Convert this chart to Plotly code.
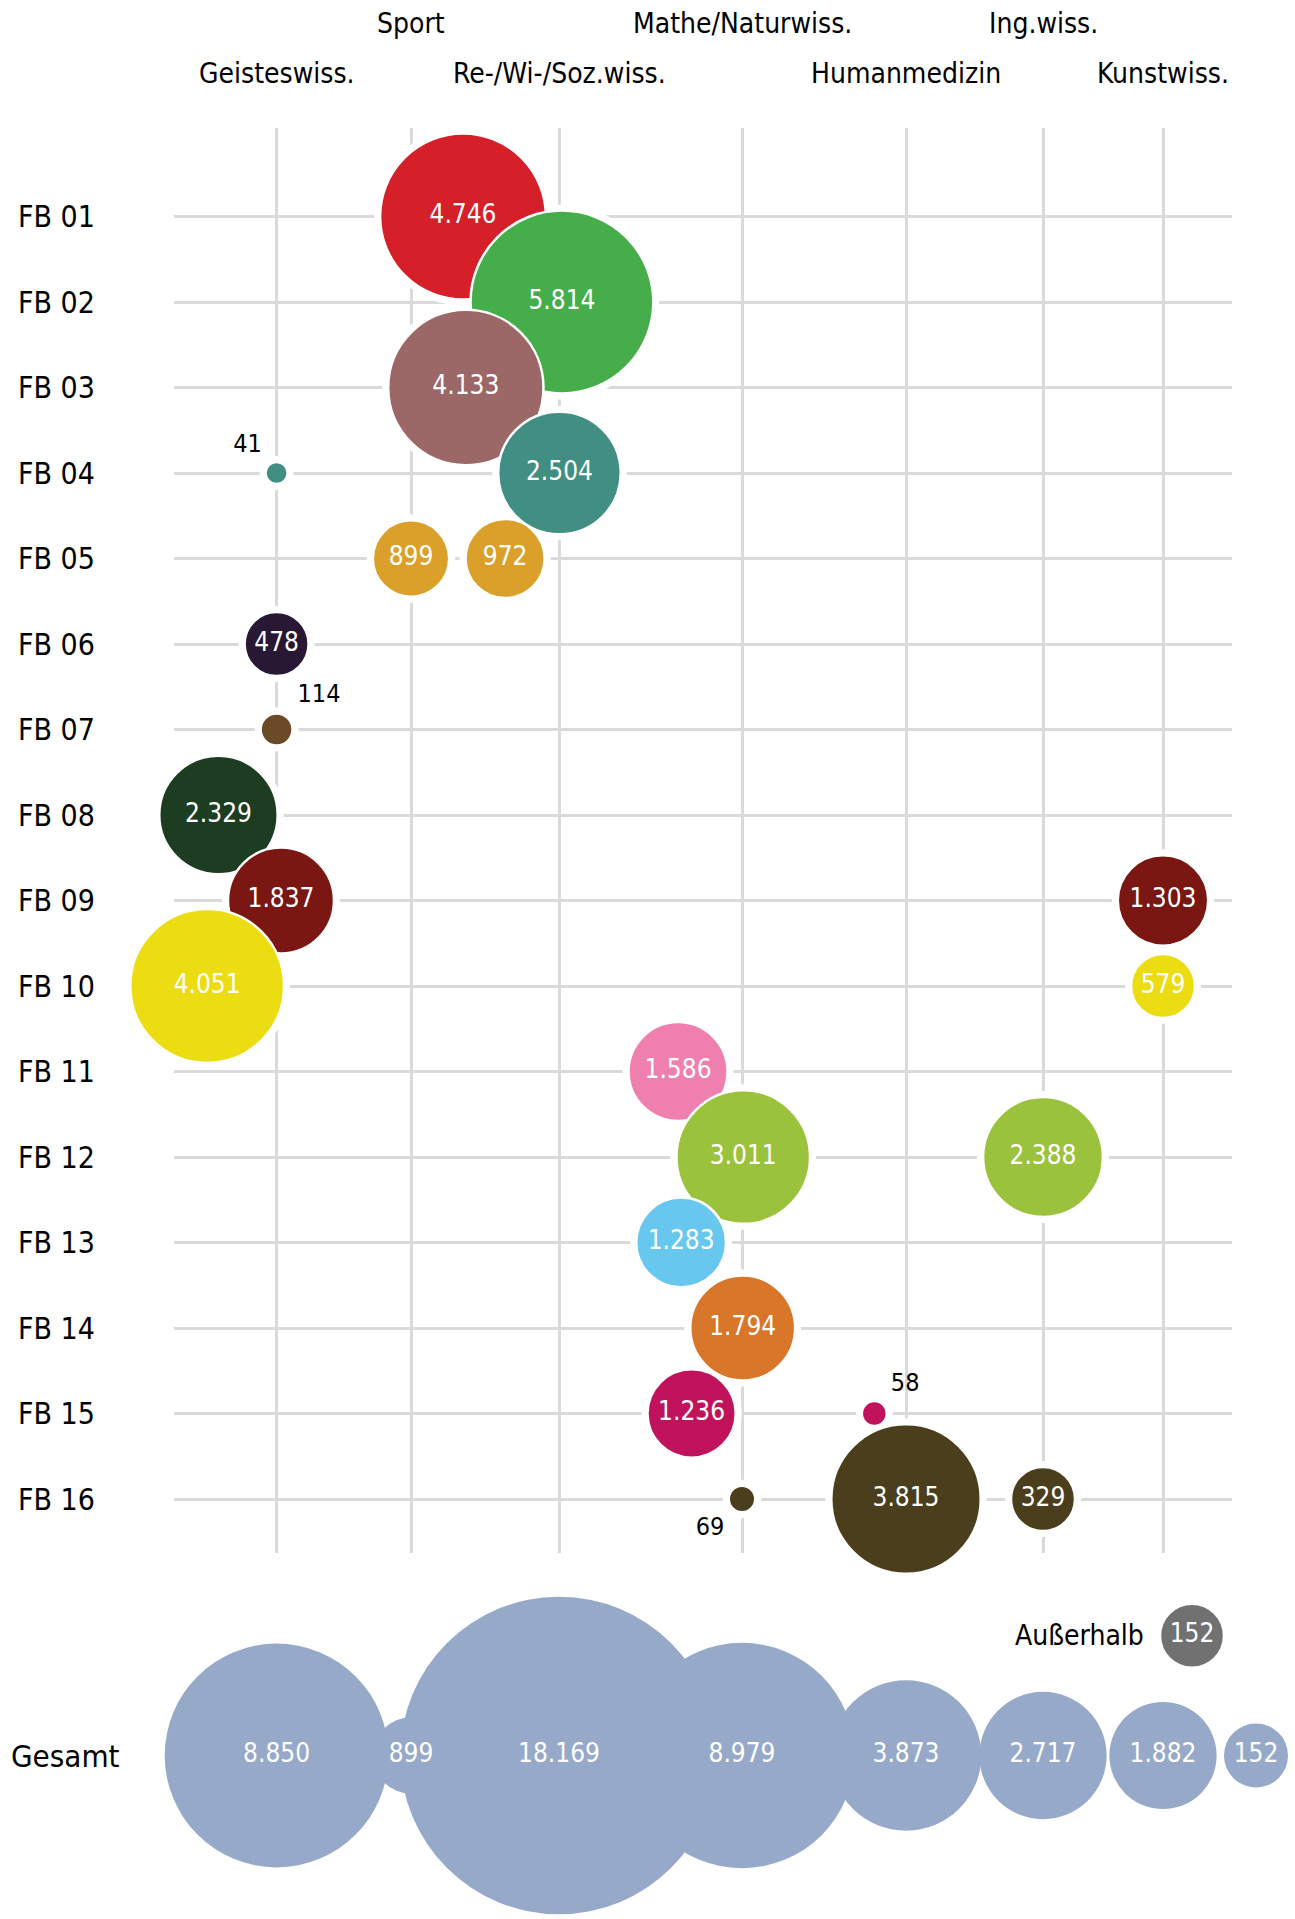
import math
import plotly.graph_objects as go
from plotly.subplots import make_subplots

# ---------------- data ----------------
COLUMNS = ["Geisteswiss.", "Sport", "Re-/Wi-/Soz.wiss.", "Mathe/Naturwiss.",
           "Humanmedizin", "Ing.wiss.", "Kunstwiss."]
ROWS = ["FB 01", "FB 02", "FB 03", "FB 04", "FB 05", "FB 06", "FB 07", "FB 08",
        "FB 09", "FB 10", "FB 11", "FB 12", "FB 13", "FB 14", "FB 15", "FB 16"]

FB_ROW = ["FB 01", "FB 02", "FB 03", "FB 04", "FB 04", "FB 05", "FB 05", "FB 06",
          "FB 07", "FB 08", "FB 09", "FB 09", "FB 10", "FB 10", "FB 11", "FB 12",
          "FB 12", "FB 13", "FB 14", "FB 15", "FB 15", "FB 16", "FB 16", "FB 16"]
FB_COLUMN = ["Re-/Wi-/Soz.wiss.", "Re-/Wi-/Soz.wiss.", "Re-/Wi-/Soz.wiss.",
             "Geisteswiss.", "Re-/Wi-/Soz.wiss.", "Sport", "Re-/Wi-/Soz.wiss.",
             "Geisteswiss.", "Geisteswiss.", "Geisteswiss.", "Geisteswiss.",
             "Kunstwiss.", "Geisteswiss.", "Kunstwiss.", "Mathe/Naturwiss.",
             "Mathe/Naturwiss.", "Ing.wiss.", "Mathe/Naturwiss.", "Mathe/Naturwiss.",
             "Mathe/Naturwiss.", "Humanmedizin", "Mathe/Naturwiss.", "Humanmedizin",
             "Ing.wiss."]
FB_VALUE = [4746, 5814, 4133, 41, 2504, 899, 972, 478, 114, 2329, 1837, 1303,
            4051, 579, 1586, 3011, 2388, 1283, 1794, 1236, 58, 69, 3815, 329]

GESAMT_LABEL = "Gesamt"
OUTSIDE_LABEL = "Außerhalb"
GESAMT_COLUMN = COLUMNS + [OUTSIDE_LABEL]
GESAMT_VALUE = [8850, 899, 18169, 8979, 3873, 2717, 1882, 152]
AUSSERHALB_VALUE = [152]

# ---------------- styles / layout ----------------
FB_COLOR = {
    "FB 01": "#D52029", "FB 02": "#45AE4A", "FB 03": "#9B6767", "FB 04": "#408F82",
    "FB 05": "#DBA02A", "FB 06": "#281834", "FB 07": "#6B4A28", "FB 08": "#1C3D21",
    "FB 09": "#7A1713", "FB 10": "#ECDC12", "FB 11": "#EE7FAE", "FB 12": "#9BC23C",
    "FB 13": "#67C7EE", "FB 14": "#D8762A", "FB 15": "#C0135C", "FB 16": "#4A3E1C",
}
GESAMT_COLOR = "#97A9C8"
AUSSERHALB_COLOR = "#717171"
GRID_COLOR = "#DADADA"
FONT = "DejaVu Sans Condensed, Liberation Sans Narrow, sans-serif"

W, H = 1295, 1919
PLOT_X = (174, 1232)
PLOT_Y = (128, 1553)
# custom (non-uniform) x scale for the subject-group columns
COL_X = {"Geisteswiss.": 276.6, "Sport": 411, "Re-/Wi-/Soz.wiss.": 559,
         "Mathe/Naturwiss.": 742, "Humanmedizin": 906, "Ing.wiss.": 1043,
         "Kunstwiss.": 1163, "Außerhalb": 1256}
ROW_Y0, ROW_STEP = 216.5, 85.5
KEY_ROW, GESAMT_ROW = 16.6, 18

R_SCALE, R_PAD, R_MIN_LABEL = 1.15, 3.7, 32.0
INSIDE_MIN = 150
GAP, OVERLAP_START, OVERLAP_RATE = 4.0, 95.0, 0.6
SPRING, ITER = 0.02, 1500
HALO = 12
ROW_FONT, HEAD_FONT, VALUE_FONT, SMALL_FONT = 30, 28, 26, 25
OUTSIDE_LABEL_POS = {("FB 04", "Geisteswiss."): "top left",
                     ("FB 07", "Geisteswiss."): "top right",
                     ("FB 15", "Humanmedizin"): "top right",
                     ("FB 16", "Mathe/Naturwiss."): "bottom left"}


def fmt(v):
    return f"{v:,}".replace(",", ".")


def row_y(idx):
    return ROW_Y0 + idx * ROW_STEP


def radius(v):
    r = R_SCALE * math.sqrt(v) + R_PAD
    return max(r, R_MIN_LABEL) if v >= INSIDE_MIN else r


# ---------------- bubble layout: dodge overlapping bubbles sideways ----------------
n = len(FB_VALUE)
tx = [COL_X[c] for c in FB_COLUMN]
ty = [row_y(ROWS.index(rw)) for rw in FB_ROW]
rad = [radius(v) for v in FB_VALUE]


def min_dist(i, j):
    s = rad[i] + rad[j]
    return s + GAP - OVERLAP_RATE * max(0.0, s - OVERLAP_START)


parent = list(range(n))


def find(a):
    while parent[a] != a:
        parent[a] = parent[parent[a]]
        a = parent[a]
    return a


for i in range(n):
    for j in range(i + 1, n):
        if FB_COLUMN[i] == FB_COLUMN[j] and abs(ty[i] - ty[j]) < min_dist(i, j):
            parent[find(i)] = find(j)
groups = {}
for i in range(n):
    groups.setdefault(find(i), []).append(i)
# in every chain of overlapping bubbles, every other bubble is dodged to the left
side = [0] * n
for members in groups.values():
    if len(members) > 1:
        for k, i in enumerate(sorted(members, key=lambda q: ty[q])):
            side[i] = -1 if k % 2 == 0 else 1
mobility = [(0.02 if side[i] > 0 else 1.0) / rad[i] ** 2 for i in range(n)]

x = [tx[i] + side[i] * 0.5 for i in range(n)]


def collide():
    for i in range(n):
        for j in range(i + 1, n):
            dy = abs(ty[i] - ty[j])
            m = min_dist(i, j)
            if dy >= m:
                continue
            need = math.sqrt(m * m - dy * dy)
            dx = x[j] - x[i]
            if abs(dx) >= need:
                continue
            s = 1.0 if dx > 0 else (-1.0 if dx < 0 else (1.0 if side[j] >= side[i] else -1.0))
            deficit = need - abs(dx)
            wi = mobility[i] / (mobility[i] + mobility[j])
            x[i] -= s * deficit * wi
            x[j] += s * deficit * (1 - wi)


for _ in range(ITER):
    collide()
    for i in range(n):
        x[i] += (tx[i] - x[i]) * SPRING
for _ in range(20):
    collide()

# ---------------- figure ----------------
top_frac = 1 - PLOT_Y[1] / H
fig = make_subplots(rows=2, cols=1, shared_xaxes=False, vertical_spacing=0,
                    row_heights=[1 - top_frac, top_frac])

order = sorted(range(n), key=lambda i: (ty[i], x[i]))
xs = [x[i] for i in order]
ys = [ty[i] for i in order]
sizes = [2 * rad[i] for i in order]
inside = [FB_VALUE[i] >= INSIDE_MIN for i in order]
tpos = ["middle center" if ins else OUTSIDE_LABEL_POS.get((FB_ROW[i], FB_COLUMN[i]), "top right")
        for i, ins in zip(order, inside)]

# white halo that interrupts the grid lines around every bubble
fig.add_trace(go.Scatter(x=xs, y=ys, mode="markers",
                         marker=dict(size=[s + HALO for s in sizes], sizemode="diameter",
                                     color="white", opacity=1, line=dict(width=0)),
                         cliponaxis=False, hoverinfo="skip", showlegend=False), row=1, col=1)
fig.add_trace(go.Scatter(
    x=xs, y=ys, mode="markers+text",
    text=[fmt(FB_VALUE[i]) for i in order], textposition=tpos,
    textfont=dict(family=FONT,
                  size=[VALUE_FONT if ins else SMALL_FONT for ins in inside],
                  color=["white" if ins else "black" for ins in inside]),
    marker=dict(size=sizes, sizemode="diameter",
                color=[FB_COLOR[FB_ROW[i]] for i in order],
                line=dict(color="white", width=2.5), opacity=1),
    cliponaxis=False, showlegend=False,
    customdata=[[FB_ROW[i], FB_COLUMN[i]] for i in order],
    hovertemplate="%{customdata[0]} – %{customdata[1]}: %{text}<extra></extra>"), row=1, col=1)

# Gesamt row
gy = row_y(GESAMT_ROW)
fig.add_trace(go.Scatter(
    x=[COL_X[c] for c in GESAMT_COLUMN], y=[gy] * len(GESAMT_VALUE),
    mode="markers+text", text=[fmt(v) for v in GESAMT_VALUE],
    textposition="middle center",
    textfont=dict(family=FONT, size=VALUE_FONT, color="white"),
    marker=dict(size=[2 * radius(v) for v in GESAMT_VALUE], sizemode="diameter",
                color=GESAMT_COLOR, line=dict(width=0), opacity=1),
    customdata=GESAMT_COLUMN, cliponaxis=False, showlegend=False,
    hovertemplate="Gesamt – %{customdata}: %{text}<extra></extra>"), row=2, col=1)

# Außerhalb key (dodged one diameter left of its Gesamt column)
ra = radius(AUSSERHALB_VALUE[0])
kx = COL_X[OUTSIDE_LABEL] - 2 * ra
ky = row_y(KEY_ROW)
fig.add_trace(go.Scatter(
    x=[kx], y=[ky], mode="markers+text", text=[fmt(v) for v in AUSSERHALB_VALUE],
    textposition="middle center",
    textfont=dict(family=FONT, size=VALUE_FONT, color="white"),
    marker=dict(size=[2 * ra], sizemode="diameter", color=AUSSERHALB_COLOR, opacity=1,
                line=dict(color="white", width=2.5)),
    cliponaxis=False, showlegend=False, hoverinfo="skip"), row=2, col=1)

annotations = []
for i, rw in enumerate(ROWS):
    annotations.append(dict(x=16 / W, xref="paper", xanchor="left", y=row_y(i), yref="y",
                            yanchor="middle", text=rw, showarrow=False,
                            font=dict(family=FONT, size=ROW_FONT, color="black")))
annotations.append(dict(x=9 / W, xref="paper", xanchor="left", y=gy, yref="y2",
                        yanchor="middle", text=GESAMT_LABEL, showarrow=False,
                        font=dict(family=FONT, size=31, color="black")))
annotations.append(dict(x=kx, xref="x2", xanchor="right", xshift=-(ra + 14), y=ky, yref="y2",
                        yanchor="middle", text=OUTSIDE_LABEL, showarrow=False,
                        font=dict(family=FONT, size=HEAD_FONT, color="black")))
for k, c in enumerate(COLUMNS):
    annotations.append(dict(x=COL_X[c], xref="x", xanchor="center",
                            y=1 - (23 if k % 2 else 73.5) / H, yref="paper", yanchor="middle",
                            text=c, showarrow=False,
                            font=dict(family=FONT, size=HEAD_FONT, color="black")))

fig.update_layout(
    width=W, height=H, margin=dict(l=0, r=0, t=0, b=0),
    paper_bgcolor="white", plot_bgcolor="white", showlegend=False,
    annotations=annotations,
    xaxis=dict(range=list(PLOT_X), domain=[PLOT_X[0] / W, PLOT_X[1] / W],
               tickvals=[COL_X[c] for c in COLUMNS], showticklabels=False, ticks="",
               showgrid=True, gridcolor=GRID_COLOR, gridwidth=3, zeroline=False,
               showline=False, fixedrange=True),
    yaxis=dict(range=[PLOT_Y[1], PLOT_Y[0]], domain=[top_frac, 1 - PLOT_Y[0] / H],
               tickvals=[row_y(i) for i in range(len(ROWS))], showticklabels=False,
               ticks="", showgrid=True, gridcolor=GRID_COLOR, gridwidth=3,
               zeroline=False, showline=False, fixedrange=True),
    xaxis2=dict(range=[0, W], domain=[0, 1], visible=False, fixedrange=True),
    yaxis2=dict(range=[H, PLOT_Y[1]], domain=[0, top_frac], visible=False, fixedrange=True),
)

fig.write_html("out.html", config={"displayModeBar": False},
               post_script="document.body.style.margin='0';document.body.style.padding='0';")
